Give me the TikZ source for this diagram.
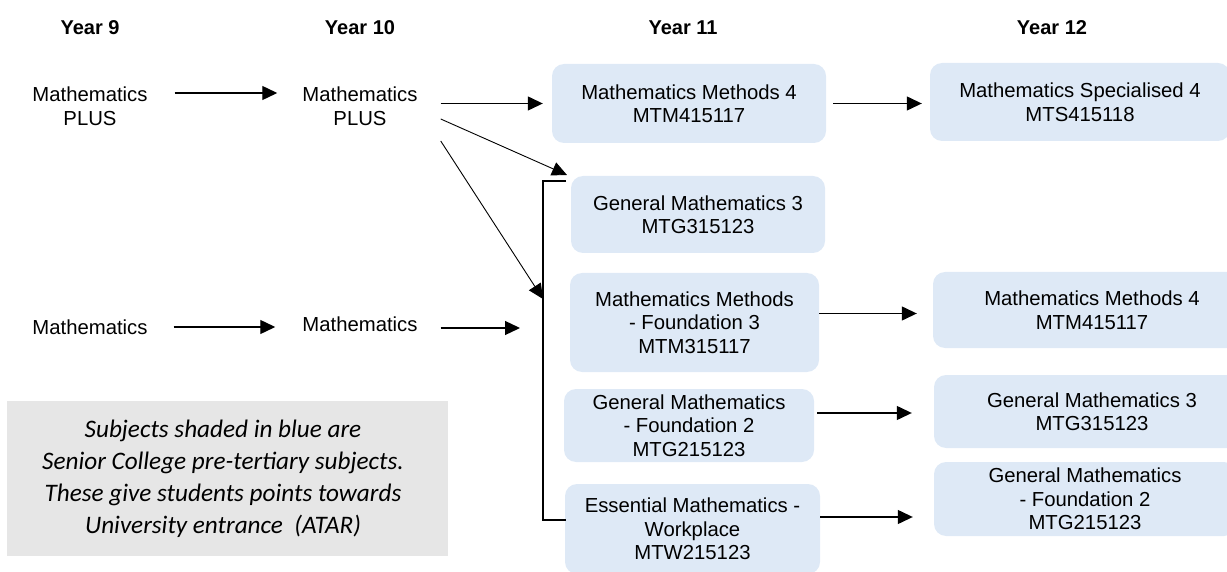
\documentclass[tikz,border=0pt]{standalone}
\usepackage{fontspec}
\setmainfont{Liberation Sans}
\newfontfamily\notefont{Carlito}
\usetikzlibrary{arrows.meta}
\definecolor{boxblue}{RGB}{222,233,246}
\definecolor{notegrey}{RGB}{230,230,230}
\begin{document}
\begin{tikzpicture}[x=1pt,y=-1pt,
  every node/.style={font=\fontsize{20.3}{23.5}\selectfont, inner sep=0pt},
  subj/.style={fill=boxblue, rounded corners=12pt, align=center},
  plain/.style={align=center},
  hdr/.style={font=\fontsize{20}{24}\selectfont\bfseries},
  arr/.style={-{Triangle[length=15pt,width=14pt]}, line width=1.3pt},
  darr/.style={-{Triangle[length=15pt,width=14pt]}, line width=0.9pt},
  brk/.style={line width=1.2pt}]
\useasboundingbox (0,0) rectangle (1227,572);

% headers
\node[hdr] (h9)  at (90,28)   {Year 9};
\node[hdr] (h10) at (360,28)  {Year 10};
\node[hdr] (h11) at (683,28)  {Year 11};
\node[hdr] (h12) at (1052,28) {Year 12};

% year 9 / year 10 plain subjects
\node[plain] (y9p)  at (90,106)  {Mathematics\\PLUS};
\node[plain] (y10p) at (360,106) {Mathematics\\PLUS};
\node[plain] (y9m)  at (90,327)  {Mathematics};
\node[plain] (y10m) at (360,324) {Mathematics};

% year 11 boxes
\node[subj, minimum width=274pt, minimum height=79pt] (mm4a) at (689,103.5)
  {Mathematics Methods 4\\MTM415117};
\node[subj, minimum width=254pt, minimum height=77pt] (gm3a) at (698,214.5)
  {General Mathematics 3\\MTG315123};
\node[subj, minimum width=249pt, minimum height=99pt] (mmf3) at (694.5,322.5)
  {Mathematics Methods\\- Foundation 3\\MTM315117};
\node[subj, minimum width=250pt, minimum height=73pt] (gmf2a) at (689,425.5)
  {General Mathematics\\- Foundation 2\\MTG215123};
\node[subj, minimum width=255pt, minimum height=90pt] (emw) at (692.5,529)
  {Essential Mathematics -\\Workplace\\MTW215123};

% year 12 boxes
\node[subj, minimum width=300pt, minimum height=78pt] (ms4) at (1080,102)
  {Mathematics Specialised 4\\MTS415118};
\node[subj, minimum width=318pt, minimum height=76pt] (mm4b) at (1092,310)
  {Mathematics Methods 4\\MTM415117};
\node[subj, minimum width=316pt, minimum height=73pt] (gm3b) at (1092,411.5)
  {General Mathematics 3\\MTG315123};
\node[subj, minimum width=302pt, minimum height=74pt] (gmf2b) at (1085,499)
  {General Mathematics\\- Foundation 2\\MTG215123};

% note
\node[fill=notegrey, minimum width=441pt, minimum height=155pt] (note) at (227.5,478.5) {};
\node[font=\notefont\itshape\fontsize{25.2}{32}\selectfont, align=center] (notetxt) at (223,479)
  {Subjects shaded in blue are\\Senior College pre-tertiary subjects.\\These give students points towards\\University entrance~ (ATAR)};

% bracket coordinates
\coordinate (bt)   at (566,181);
\coordinate (bb)   at (566,520);
\coordinate (bmid) at (543,299);
\coordinate (bin)  at (520,328);
\coordinate (gtip) at (567,175);

\draw[brk] (bt) -| (bmid) -- (bmid |- bb) -- (bb);

% connectors
\draw[arr, shorten <=27pt, shorten >=25pt] ([yshift=13pt]y9p.east) -- ([yshift=13pt]y10p.west);
\draw[arr, shorten <=26pt, shorten >=27pt] (y9m.east) -- (y9m.east -| y10m.west);
\draw[arr, shorten <=23pt, shorten >=9pt] (y10p.east |- mm4a.west) -- (mm4a.west);
\draw[darr] ([xshift=23pt,yshift=-13pt]y10p.east) -- (gtip);
\draw[darr] ([xshift=23pt,yshift=-35pt]y10p.east) -- (bmid);
\draw[arr] ([xshift=23pt]y10m.east |- bin) -- (bin);

\draw[arr, shorten <=7pt, shorten >=8pt] (mm4a.east) -- (mm4a.east -| ms4.west);
\draw[arr, shorten >=16pt] ([yshift=9pt]mmf3.east) -- ([yshift=9pt]mmf3.east -| mm4b.west);
\draw[arr, shorten <=3pt, shorten >=22pt] ([yshift=12.5pt]gmf2a.east) -- ([yshift=12.5pt]gmf2a.east -| gm3b.west);
\draw[arr, shorten >=21pt] ([yshift=12pt]emw.east) -- ([yshift=12pt]emw.east -| gmf2b.west);
\end{tikzpicture}
\end{document}
